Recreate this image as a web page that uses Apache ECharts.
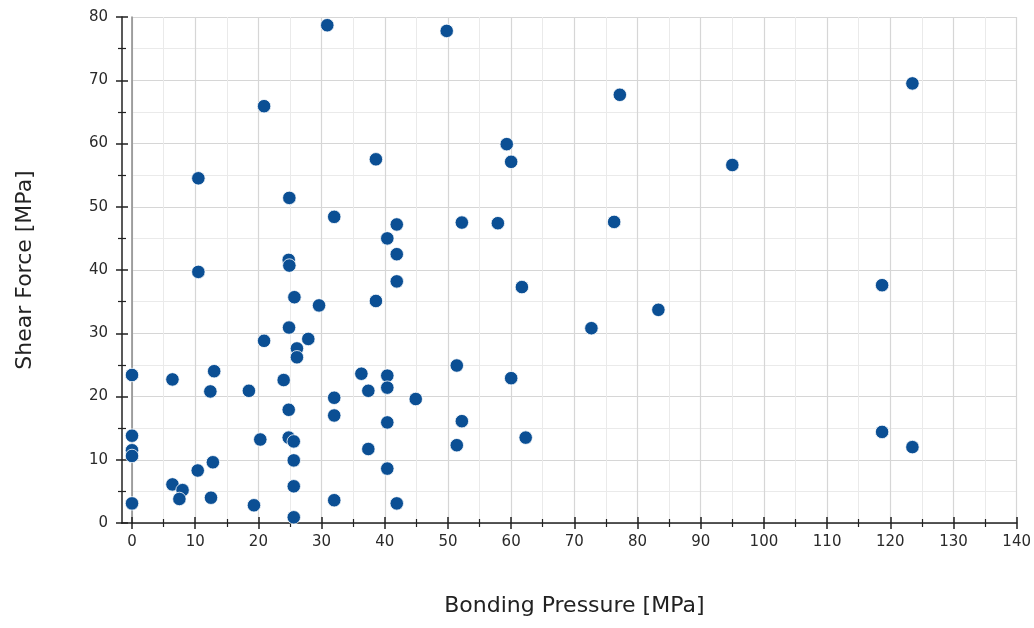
<!DOCTYPE html>
<html>
<head>
<meta charset="utf-8">
<script src="https://cdn.jsdelivr.net/npm/echarts@6/dist/echarts.min.js"></script>
<style>
  html, body { margin: 0; padding: 0; background: #fff; }
  #main { width: 1034px; height: 628px; }
</style>
</head>
<body>
<div id="main"></div>
<script>
// bonding pressure [MPa] of each sample
var pressure = [
  30.9, 49.8, 77.2, 123.5, 20.9, 59.3, 60.0, 38.6, 95.0, 10.5,
  24.9, 32.0, 41.9, 52.2, 57.9, 76.3, 40.4, 41.9, 24.8, 24.9,
  10.5, 41.9, 61.7, 118.7, 25.7, 38.6, 29.6, 83.3, 24.85, 72.7,
  27.9, 20.9, 26.1, 26.1, 51.4, 13.0, 0, 36.3, 40.4, 60.0,
  6.4, 24.0, 37.4, 40.4, 12.4, 18.5, 32.0, 44.9, 24.8, 32.0,
  40.4, 52.2, 118.7, 0, 62.3, 24.8, 20.3, 25.6, 51.4, 123.5,
  37.4, 0, 0, 25.6, 12.8, 40.4, 10.4, 6.4, 25.6, 8.0,
  12.5, 7.5, 32.0, 0, 41.9, 19.3, 25.6
];
// shear force [MPa] of each sample
var shear = [
  78.7, 77.8, 67.7, 69.5, 65.9, 59.9, 57.1, 57.5, 56.6, 54.5,
  51.4, 48.4, 47.2, 47.5, 47.4, 47.6, 45.0, 42.5, 41.6, 40.7,
  39.7, 38.2, 37.3, 37.6, 35.7, 35.1, 34.4, 33.7, 30.9, 30.8,
  29.1, 28.8, 27.6, 26.2, 24.9, 24.0, 23.4, 23.6, 23.3, 22.9,
  22.7, 22.6, 20.9, 21.4, 20.8, 20.9, 19.8, 19.6, 17.9, 17.0,
  15.9, 16.1, 14.4, 13.8, 13.5, 13.5, 13.2, 12.9, 12.3, 12.0,
  11.7, 11.5, 10.6, 9.9, 9.6, 8.6, 8.3, 6.1, 5.8, 5.2,
  4.0, 3.8, 3.6, 3.1, 3.1, 2.8, 0.9
];

var xMin = 0, xMax = 140, xStep = 10;
var yMin = 0, yMax = 80, yStep = 10;

var points = pressure.map(function (p, i) { return [p, shear[i]]; });

var myChart = echarts.init(document.getElementById('main'));
var font = 'DejaVu Sans, Verdana, sans-serif';

var option = {
  animation: false,
  grid: { left: 132, right: 16, top: 17, bottom: 105 },
  xAxis: [
    {
      type: 'value', min: xMin, max: xMax, interval: xStep,
      name: 'Bonding Pressure [MPa]', nameLocation: 'middle', nameGap: 72,
      nameTextStyle: { fontFamily: font, fontSize: 22, color: '#222' },
      axisLine: { show: true, onZero: false, lineStyle: { color: '#222', width: 1.5 } },
      axisTick: { show: true, length: 6, lineStyle: { color: '#222', width: 1.5 } },
      minorTick: { show: true, splitNumber: 2, length: 4, lineStyle: { color: '#222', width: 1.2 } },
      axisLabel: { fontFamily: font, fontSize: 15, color: '#2a2a2a', margin: 12 },
      splitLine: { show: true, lineStyle: { color: '#d6d6d6', width: 1.2 } },
      minorSplitLine: { show: true, lineStyle: { color: '#eaeaea', width: 1 } }
    },
    {
      // inner half of the crossing ticks
      type: 'value', min: xMin, max: xMax, interval: xStep, position: 'bottom',
      axisLine: { show: false, onZero: false },
      axisTick: { show: true, inside: true, length: 6, lineStyle: { color: '#222', width: 1.5 } },
      minorTick: { show: true, splitNumber: 2, length: 4, lineStyle: { color: '#222', width: 1.2 } },
      axisLabel: { show: false },
      splitLine: { show: false }
    }
  ],
  yAxis: [
    {
      type: 'value', min: yMin, max: yMax, interval: yStep, offset: 10,
      name: 'Shear Force [MPa]', nameLocation: 'middle', nameGap: 86,
      nameTextStyle: { fontFamily: font, fontSize: 22, color: '#222' },
      axisLine: { show: true, onZero: false, lineStyle: { color: '#222', width: 1.5 } },
      axisTick: { show: true, length: 6, lineStyle: { color: '#222', width: 1.5 } },
      minorTick: { show: true, splitNumber: 2, length: 4, lineStyle: { color: '#222', width: 1.2 } },
      axisLabel: { fontFamily: font, fontSize: 15, color: '#2a2a2a', margin: 14 },
      splitLine: { show: true, lineStyle: { color: '#d6d6d6', width: 1.2 } },
      minorSplitLine: { show: true, lineStyle: { color: '#eaeaea', width: 1 } }
    },
    {
      type: 'value', min: yMin, max: yMax, interval: yStep, offset: 10, position: 'left',
      axisLine: { show: false, onZero: false },
      axisTick: { show: true, inside: true, length: 6, lineStyle: { color: '#222', width: 1.5 } },
      minorTick: { show: true, splitNumber: 2, length: 4, lineStyle: { color: '#222', width: 1.2 } },
      axisLabel: { show: false },
      splitLine: { show: false }
    },
    {
      // grey line at x = 0
      type: 'value', min: yMin, max: yMax, position: 'left',
      axisLine: { show: true, onZero: false, lineStyle: { color: '#8a8a8a', width: 1.5 } },
      axisTick: { show: false },
      axisLabel: { show: false },
      splitLine: { show: false }
    }
  ],
  graphic: [
    {
      type: 'line', z: 10,
      shape: { x1: 121, y1: 523, x2: 133, y2: 523 },
      style: { stroke: '#222', lineWidth: 1.5 }
    }
  ],
  series: [
    {
      type: 'scatter', xAxisIndex: 0, yAxisIndex: 0,
      symbolSize: 13.5,
      itemStyle: { color: '#0b4f94', opacity: 1, borderColor: '#ffffff', borderWidth: 0.8 },
      data: points,
      z: 5
    }
  ]
};

myChart.setOption(option);
</script>
</body>
</html>
